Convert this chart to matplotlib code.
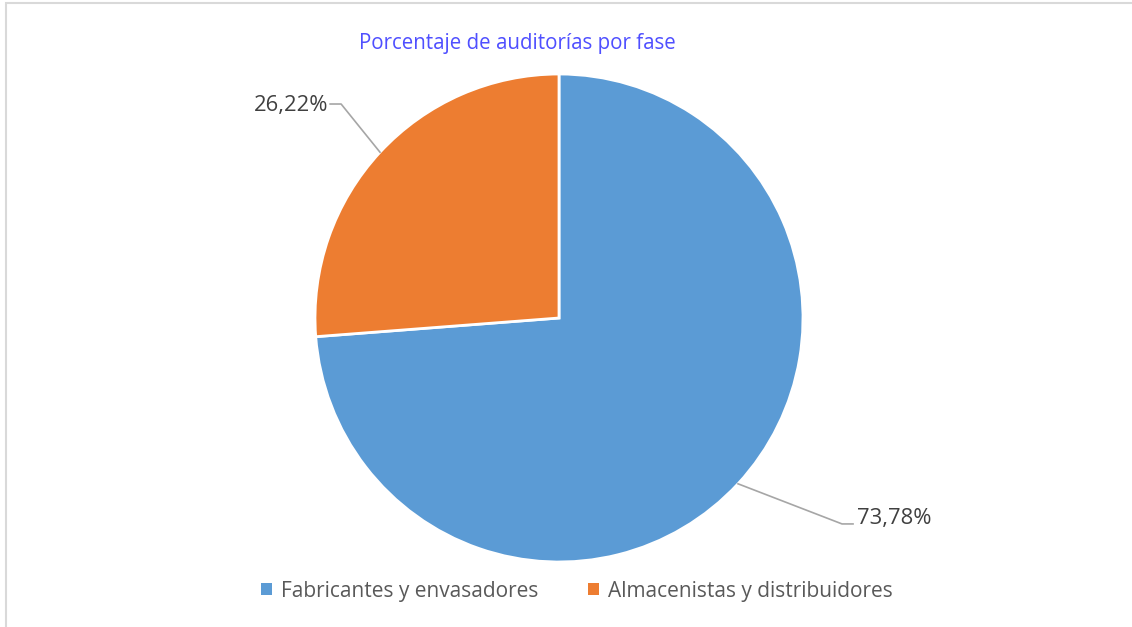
import matplotlib.pyplot as plt
import numpy as np
from matplotlib.patches import Rectangle
from matplotlib.lines import Line2D

# data
categories = ["Fabricantes y envasadores", "Almacenistas y distribuidores"]
values = [73.78, 26.22]
value_labels = ["73,78%", "26,22%"]
colors = ["#5b9bd5", "#ed7d31"]
title = "Porcentaje de auditorías por fase"

plt.rcParams['font.family'] = ['Open Sans', 'DejaVu Sans']

W, H = 1132, 627
fig = plt.figure(figsize=(W / 100, H / 100), dpi=100)

# light frame around the chart area (right and bottom edges fall outside the image)
fig.patches.append(Rectangle((6 / W, -0.5), 2.0, 1.5 - 3 / H, transform=fig.transFigure,
                             fill=False, edgecolor="#d9d9d9", linewidth=1.5))

# pie axes: centre (559, 318) px, radius 244 px
cx, cy, r = 559, 318, 244
ax = fig.add_axes([(cx - r) / W, (H - cy - r) / H, 2 * r / W, 2 * r / H])
wedges, _ = ax.pie(values, colors=colors, startangle=90, counterclock=False,
                   wedgeprops=dict(edgecolor="white", linewidth=2))
ax.set_xlim(-1, 1)
ax.set_ylim(-1, 1)
ax.set_aspect("auto")
ax.axis("off")

# data labels with leader lines (elbow and text placement per wedge)
elbows = [(1.160, -0.844), (-0.893, 0.877)]
text_pos = [(1.220, -0.822), (-0.947, 0.869)]
for w, lab, (ex, ey), (tx, ty) in zip(wedges, value_labels, elbows, text_pos):
    ang = np.deg2rad((w.theta1 + w.theta2) / 2)
    px, py = np.cos(ang), np.sin(ang)
    side = 1 if tx > 0 else -1
    ax.add_line(Line2D([px, ex, ex + side * 0.045], [py, ey, ey], color="#a6a6a6",
                       linewidth=1.2, clip_on=False))
    ax.text(tx, ty, lab, ha="left" if side > 0 else "right", va="center",
            fontsize=15.8, color="#404040", clip_on=False)

fig.text(517 / W, 1 - 43 / H, title, ha="center", va="center",
         fontsize=14.8, color="#4f4fff")

handles = [Rectangle((0, 0), 1, 1, facecolor=c, edgecolor="none") for c in colors]
fig.legend(handles, categories, loc="center", bbox_to_anchor=(577 / W, 1 - 591 / H),
           ncol=2, frameon=False, fontsize=15, labelcolor="#595959",
           handlelength=0.5, handleheight=0.5, handletextpad=0.45, columnspacing=2.4)

fig.savefig("out.png", dpi=100, facecolor="white")
